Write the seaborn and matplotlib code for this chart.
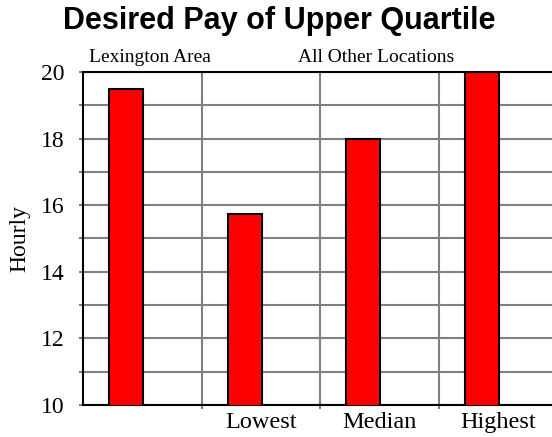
import pandas as pd
import numpy as np
import seaborn as sns
import matplotlib.pyplot as plt
from matplotlib.ticker import MultipleLocator, FixedLocator

# values
categories = ['Lexington Area', 'Lowest', 'Median', 'Highest']
hourly = [19.5, 15.75, 18.0, 20.0]
tick_labels = ['', 'Lowest', 'Median', 'Highest']
group_labels = ['Lexington Area', 'All Other Locations']

data = pd.DataFrame({'Location': categories, 'Hourly': hourly})

sns.set_theme(style='white')
plt.rcParams['font.family'] = ['Liberation Serif', 'DejaVu Serif']
plt.rcParams['text.color'] = 'black'
plt.rcParams['axes.labelcolor'] = 'black'
plt.rcParams['xtick.labelcolor'] = 'black'
plt.rcParams['ytick.labelcolor'] = 'black'

fig = plt.figure(figsize=(5.52, 4.37), dpi=100)
ax = fig.add_axes([83 / 552, 32 / 437, 474 / 552, 333 / 437])

sns.barplot(data=data, x='Location', y='Hourly', color='#ff0000', saturation=1,
            width=0.29, edgecolor='black', linewidth=1.5, ax=ax, zorder=3)

# bars sit left of the category centre in the original
for p in ax.patches:
    p.set_x(p.get_x() - 0.135)

ax.set_xlim(-0.5, 3.5)
ax.set_ylim(10, 20)

grid_kw = dict(color='#808080', linewidth=1.5, zorder=1)
ax.yaxis.set_major_locator(MultipleLocator(2))
ax.yaxis.set_minor_locator(MultipleLocator(1))
ax.xaxis.set_minor_locator(FixedLocator([0.5, 1.5, 2.5]))
ax.grid(True, which='both', axis='y', **grid_kw)
ax.grid(True, which='minor', axis='x', **grid_kw)
ax.set_axisbelow(True)

ax.set_xticks(range(len(categories)))
ax.set_xticklabels(tick_labels, fontsize=17.5)
ax.tick_params(axis='x', which='major', length=0, pad=5)
ax.tick_params(axis='x', which='minor', length=3, width=1.5, color='#808080', direction='out', bottom=True)
ax.tick_params(axis='y', which='both', length=3, width=1.5, color='#808080', direction='out', left=True)
ax.tick_params(axis='y', which='major', labelsize=17, pad=10)

for side in ['top', 'left', 'bottom']:
    ax.spines[side].set_color('black')
    ax.spines[side].set_linewidth(1.5)
ax.spines['right'].set_visible(False)

ax.set_xlabel('')
ax.set_ylabel('Hourly', fontsize=17)
ax.yaxis.set_label_coords(-0.112, 0.5)

ax.text(0.065, 20.3, group_labels[0], fontsize=14, ha='center', va='baseline')
ax.text(1.977, 20.3, group_labels[1], fontsize=14, ha='center', va='baseline')

fig.suptitle('Desired Pay of Upper Quartile', family='Liberation Sans', fontweight='bold',
             fontsize=22, x=0.505, y=0.952, va='center')

fig.savefig('out.png', dpi=100)
